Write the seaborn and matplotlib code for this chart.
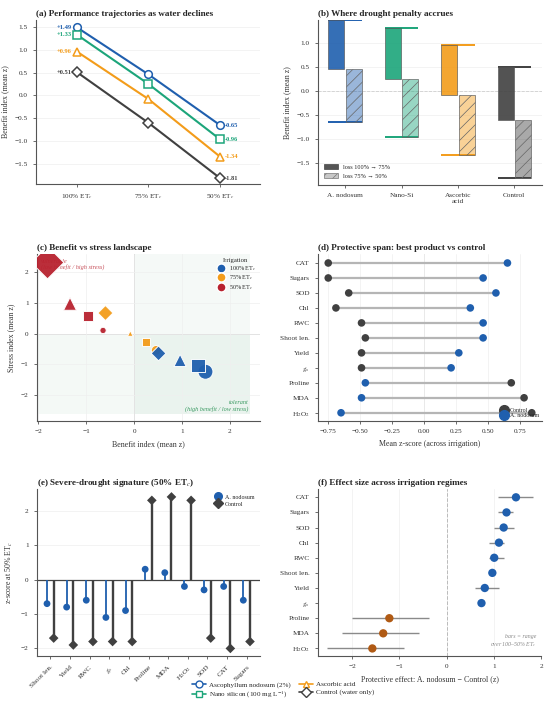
import numpy as np
import pandas as pd
import seaborn as sns
import matplotlib.pyplot as plt
from matplotlib.lines import Line2D
from matplotlib.patches import Patch, Rectangle

"""
1. Values read off the reference figure
"""
regimes = ["100% ET$_c$", "75% ET$_c$", "50% ET$_c$"]
treatments = ["Ascophyllum nodosum (2%)", "Nano silicon (100 mg L$^{-1}$)",
              "Ascorbic acid", "Control (water only)"]
short_names = ["A. nodosum", "Nano-Si", "Ascorbic\nacid", "Control"]

# benefit index (mean z) at 100 / 75 / 50 % ETc
benefit_nodosum = [1.49, 0.46, -0.65]
benefit_nanosi = [1.33, 0.25, -0.96]
benefit_ascorbic = [0.96, -0.08, -1.34]
benefit_control = [0.51, -0.60, -1.81]

# stress index (mean z) at 100 / 75 / 50 % ETc
stress_nodosum = [-1.25, -0.55, 0.10]
stress_nanosi = [-1.05, -0.27, 0.57]
stress_ascorbic = [-0.88, 0.00, 0.97]
stress_control = [-0.65, 0.67, 2.32]

# (d) protective span, (f) effect size
traits_d = ["CAT", "Sugars", "SOD", "Chl", "RWC", "Shoot len.", "Yield",
            "$g_s$", "Proline", "MDA", "H$_2$O$_2$"]
span_control = [-0.75, -0.75, -0.59, -0.69, -0.49, -0.46, -0.49, -0.49, 0.68, 0.78, 0.84]
span_nodosum = [0.65, 0.46, 0.56, 0.36, 0.46, 0.46, 0.27, 0.21, -0.46, -0.49, -0.65]

effect_mean = [1.47, 1.27, 1.21, 1.11, 1.01, 0.97, 0.81, 0.74, -1.21, -1.34, -1.57]
effect_lo = [1.09, 1.09, 1.00, 0.89, 0.89, 0.93, 0.60, 0.72, -2.01, -2.21, -2.52]
effect_hi = [1.83, 1.41, 1.43, 1.22, 1.22, 1.00, 1.12, 0.76, -0.38, -0.59, -0.89]

# (e) severe drought signature at 50% ETc
traits_e = ["Shoot len.", "Yield", "RWC", "$g_s$", "Chl", "Proline", "MDA",
            "H$_2$O$_2$", "SOD", "CAT", "Sugars"]
severe_nodosum = [-0.7, -0.8, -0.6, -1.1, -0.9, 0.3, 0.2, -0.2, -0.3, -0.2, -0.6]
severe_control = [-1.7, -1.9, -1.8, -1.8, -1.8, 2.3, 2.4, 2.3, -1.7, -2.0, -1.8]

"""
2. Style
"""
blue = "#1f5fae"
green = "#1ca57a"
orange = "#f39c1a"
dark = "#404040"
red = "#b8222f"
brown = "#b05a14"
colors = [blue, green, orange, dark]
markers = ["o", "s", "^", "D"]
reg_colors = [blue, orange, red]

sns.set_theme(style="ticks", rc={
    "axes.grid": True, "grid.color": "#efefef", "grid.linewidth": 0.5,
    "axes.edgecolor": "#555555", "axes.linewidth": 0.8,
    "xtick.major.size": 2.5, "ytick.major.size": 2.5,
    "xtick.major.width": 0.6, "ytick.major.width": 0.6,
    "xtick.color": "#555555", "ytick.color": "#555555",
    "xtick.labelcolor": "#333333", "ytick.labelcolor": "#333333",
    "xtick.labelsize": 5.2, "ytick.labelsize": 5.2,
    "axes.labelsize": 5.7, "axes.labelcolor": "#333333",
    "hatch.color": "#666666", "hatch.linewidth": 0.5,
})
plt.rcParams["font.family"] = ["Liberation Serif", "DejaVu Serif"]
plt.rcParams["mathtext.fontset"] = "stix"

TITLE = dict(loc="left", fontsize=6.6, fontweight="bold", pad=3)

fig = plt.figure(figsize=(5.5, 7.03), dpi=100)
W, H = 550, 703


def add_ax(x0, y0, x1, y1):
    return fig.add_axes([x0 / W, 1 - y1 / H, (x1 - x0) / W, (y1 - y0) / H])


ax_a = add_ax(36, 20, 260, 184)
ax_b = add_ax(318, 20, 542, 185)
ax_c = add_ax(37, 254, 260, 421)
ax_d = add_ax(318, 254, 542, 421)
ax_e = add_ax(37, 489, 260, 656)
ax_f = add_ax(318, 489, 541, 656)

benefits = [benefit_nodosum, benefit_nanosi, benefit_ascorbic, benefit_control]
stresses = [stress_nodosum, stress_nanosi, stress_ascorbic, stress_control]

"""
3. (a) trajectories
"""
df_a = pd.DataFrame({
    "treatment": np.repeat(treatments, 3),
    "pos": np.tile(np.arange(len(regimes)), 4),
    "benefit": np.concatenate(benefits),
})
sns.lineplot(data=df_a, x="pos", y="benefit", hue="treatment", style="treatment",
             palette=colors, markers=markers, dashes=False, lw=1.5, ms=5.5,
             legend=False, ax=ax_a)
for line, col in zip(ax_a.lines, colors):
    line.set_markerfacecolor("white")
    line.set_markeredgecolor(col)
    line.set_markeredgewidth(1.1)
for vals, col in zip(benefits, colors):
    ax_a.annotate(f"{vals[0]:+.2f}", (0, vals[0]), xytext=(-3.5, 0),
                  textcoords="offset points", ha="right", va="center",
                  fontsize=4.6, fontweight="bold", color=col)
    ax_a.annotate(f"{vals[-1]:.2f}", (2, vals[-1]), xytext=(3.5, 0),
                  textcoords="offset points", ha="left", va="center",
                  fontsize=4.6, fontweight="bold", color=col)
ax_a.set_xticks(range(len(regimes)), regimes)
ax_a.set_xlim(-0.57, 2.56)
ax_a.set_ylim(-1.94, 1.65)
ax_a.set_yticks([-1.5, -1.0, -0.5, 0.0, 0.5, 1.0, 1.5])
ax_a.grid(axis="x", visible=False)
ax_a.set_xlabel("")
ax_a.set_ylabel("Benefit index (mean z)")
ax_a.set_title("(a) Performance trajectories as water declines", **TITLE)

"""
4. (b) drought penalty
"""
bw = 0.28
for i, (vals, col) in enumerate(zip(benefits, colors)):
    top, mid, bot = vals
    ax_b.hlines([top, bot], i - 0.295, i + 0.295, color=col, lw=1.4, zorder=1)
    ax_b.bar(i - 0.155, mid - top, bottom=top, width=bw, color=col, alpha=0.9,
             edgecolor="#555555", lw=0.5, zorder=2)
    ax_b.bar(i + 0.155, bot - mid, bottom=mid, width=bw,
             facecolor=plt.matplotlib.colors.to_rgba(col, 0.45),
             edgecolor="#666666", hatch="///", lw=0.5, zorder=2)
ax_b.axhline(0, color="#888888", ls="--", lw=0.6, zorder=0)
ax_b.set_xticks(range(len(short_names)), short_names)
ax_b.set_xlim(-0.48, 3.49)
ax_b.set_ylim(-1.96, 1.49)
ax_b.set_yticks([-1.5, -1.0, -0.5, 0.0, 0.5, 1.0])
ax_b.grid(axis="x", visible=False)
ax_b.set_ylabel("Benefit index (mean z)")
ax_b.legend(handles=[Patch(facecolor="#555555", edgecolor="#444444", lw=0.5,
                           label="loss 100% → 75%"),
                     Patch(facecolor="#c8c8c8", edgecolor="#777777", hatch="///",
                           lw=0.5, label="loss 75% → 50%")],
            loc="lower left", fontsize=4.5, frameon=False, handlelength=2.2,
            handleheight=0.9, borderaxespad=0.6)
ax_b.set_title("(b) Where drought penalty accrues", **TITLE)

"""
5. (c) benefit vs stress landscape
"""
df_c = pd.DataFrame({
    "treatment": np.repeat(treatments, 3),
    "regime": np.tile(regimes, 4),
    "benefit": np.concatenate(benefits),
    "stress": np.concatenate(stresses),
})
# marker diameter grows with |stress|
df_c["size"] = (1 + 1.36 * df_c["stress"].abs()) ** 2
ax_c.set_xlim(-2.03, 2.63)
ax_c.set_ylim(-2.86, 2.6)
ax_c.add_patch(Rectangle((0, -2.62), 2.43, 2.6 + 2.62, color="#2e8b57",
                         alpha=0.045, lw=0, zorder=0))
ax_c.add_patch(Rectangle((-2.03, -2.62), 2.03 + 2.43, 2.62, color="#2e8b57",
                         alpha=0.05, lw=0, zorder=0))
ax_c.axhline(0, color="#c8c8c8", lw=0.7, zorder=0.5)
ax_c.axvline(0, color="#c8c8c8", lw=0.7, zorder=0.5)
sns.scatterplot(data=df_c, x="benefit", y="stress", hue="regime", style="treatment",
                size="size", sizes=(16, 275), size_norm=(1, df_c["size"].max()),
                palette=reg_colors, markers=markers, edgecolor="white",
                linewidth=0.7, alpha=0.95, legend=False, zorder=3, ax=ax_c)
ax_c.text(-1.95, 2.45, "vulnerable\n(low benefit / high stress)", color=red,
          fontsize=4.5, style="italic", ha="left", va="top", alpha=0.8, zorder=2)
ax_c.text(2.38, -2.55, "tolerant\n(high benefit / low stress)", color="#3a9a62",
          fontsize=4.5, style="italic", ha="right", va="bottom", multialignment="right")
ax_c.legend(handles=[Line2D([], [], marker="o", ls="", mfc=c, mec="white", ms=6.5,
                            label=r) for c, r in zip(reg_colors, regimes)],
            title="Irrigation", title_fontsize=4.8, fontsize=4.4, frameon=False,
            loc="upper right", handletextpad=0.2, labelspacing=0.1,
            borderaxespad=0.3)
ax_c.set_xticks([-2, -1, 0, 1, 2])
ax_c.set_yticks([-2, -1, 0, 1, 2])
ax_c.set_xlabel("Benefit index (mean z)")
ax_c.set_ylabel("Stress index (mean z)")
ax_c.set_title("(c) Benefit vs stress landscape", **TITLE)

"""
6. (d) protective span
"""
rows = np.arange(len(traits_d))
ax_d.hlines(rows, span_control, span_nodosum, color="#b5b5b5", lw=1.6, zorder=1)
ax_d.axvline(0, color="#dddddd", lw=0.7, zorder=0)
df_d = pd.DataFrame({
    "value": span_control + span_nodosum,
    "row": np.concatenate([rows, rows]),
    "who": ["Control"] * len(rows) + ["A. nodosum"] * len(rows),
})
sns.scatterplot(data=df_d, x="value", y="row", hue="who", palette=[dark, blue],
                s=30, edgecolor="none", legend=False, zorder=3, ax=ax_d)
ax_d.legend(handles=[Line2D([], [], marker="o", ls="", color=dark, ms=7, label="Control"),
                     Line2D([], [], marker="o", ls="", color=blue, ms=7, label="A. nodosum")],
            loc="lower right", fontsize=4.2, frameon=False, handletextpad=0.1,
            labelspacing=0.05, borderaxespad=0.1)
ax_d.set_yticks(rows, traits_d)
ax_d.set_ylim(10.55, -0.6)
ax_d.set_xlim(-0.83, 0.92)
ax_d.set_xticks([-0.75, -0.5, -0.25, 0, 0.25, 0.5, 0.75])
ax_d.grid(axis="y", visible=False)
ax_d.set_xlabel("Mean z-score (across irrigation)")
ax_d.set_ylabel("")
ax_d.set_title("(d) Protective span: best product vs control", **TITLE)

"""
7. (e) severe drought signature
"""
cols_e = np.arange(len(traits_e))
off = 0.17
ax_e.axhline(0, color="#444444", lw=0.9, zorder=1)
ax_e.vlines(cols_e - off, 0, severe_nodosum, color=blue, lw=1.3, zorder=2)
ax_e.vlines(cols_e + off, 0, severe_control, color=dark, lw=1.7, zorder=2)
df_e = pd.DataFrame({
    "pos": np.concatenate([cols_e - off, cols_e + off]),
    "value": severe_nodosum + severe_control,
    "who": ["A. nodosum"] * len(cols_e) + ["Control"] * len(cols_e),
})
sns.scatterplot(data=df_e, x="pos", y="value", hue="who", style="who",
                palette=[blue, dark], markers=["o", "D"], s=24, edgecolor="none",
                legend=False, zorder=3, ax=ax_e)
ax_e.legend(handles=[Line2D([], [], marker="o", ls="", color=blue, ms=5.5, label="A. nodosum"),
                     Line2D([], [], marker="D", ls="", color=dark, ms=5.5, label="Control")],
            loc="upper right", fontsize=4.3, frameon=False, handletextpad=0.2,
            labelspacing=0.3, borderaxespad=0.5)
ax_e.set_xticks(cols_e, traits_e, rotation=45, ha="right", rotation_mode="anchor")
ax_e.set_xlim(-0.68, 10.68)
ax_e.set_ylim(-2.22, 2.63)
ax_e.set_yticks([-2, -1, 0, 1, 2])
ax_e.grid(axis="x", visible=False)
ax_e.set_xlabel("")
ax_e.set_ylabel("z-score at 50% ET$_c$")
ax_e.set_title("(e) Severe-drought signature (50% ET$_c$)", **TITLE)

"""
8. (f) effect size
"""
ax_f.hlines(rows, effect_lo, effect_hi, color="#8a8a8a", lw=1.0, zorder=1)
ax_f.axvline(0, color="#444444", ls="--", lw=0.7, zorder=0)
df_f = pd.DataFrame({"effect": effect_mean, "row": rows,
                     "sign": ["pos" if v > 0 else "neg" for v in effect_mean]})
sns.scatterplot(data=df_f, x="effect", y="row", hue="sign",
                palette={"pos": blue, "neg": brown}, s=36, edgecolor="none",
                legend=False, zorder=3, ax=ax_f)
ax_f.text(0.98, 0.04, "bars = range\nover 100–50% ET$_c$", transform=ax_f.transAxes,
          ha="right", va="bottom", fontsize=4.2, style="italic", color="#888888",
          multialignment="right")
ax_f.set_yticks(rows, traits_d)
ax_f.set_ylim(10.5, -0.55)
ax_f.set_xlim(-2.72, 2.0)
ax_f.set_xticks([-2, -1, 0, 1, 2])
ax_f.grid(axis="y", visible=False)
ax_f.set_xlabel("Protective effect: A. nodosum − Control (z)")
ax_f.set_ylabel("")
ax_f.set_title("(f) Effect size across irrigation regimes", **TITLE)

for ax in [ax_a, ax_b, ax_c, ax_d, ax_e, ax_f]:
    sns.despine(ax=ax)

"""
9. shared legend
"""
handles = [Line2D([], [], color=c, marker=m, mfc="white", mec=c, ms=5, lw=1.2,
                  mew=1.0, label=t) for c, m, t in zip(colors, markers, treatments)]
fig.legend(handles=handles, loc="lower center", bbox_to_anchor=(0.515, -0.005),
           ncol=2, fontsize=5.1, frameon=False, handlelength=2.0,
           columnspacing=1.2, labelspacing=0.25, handletextpad=0.4)

fig.savefig("out.png", dpi=100)
